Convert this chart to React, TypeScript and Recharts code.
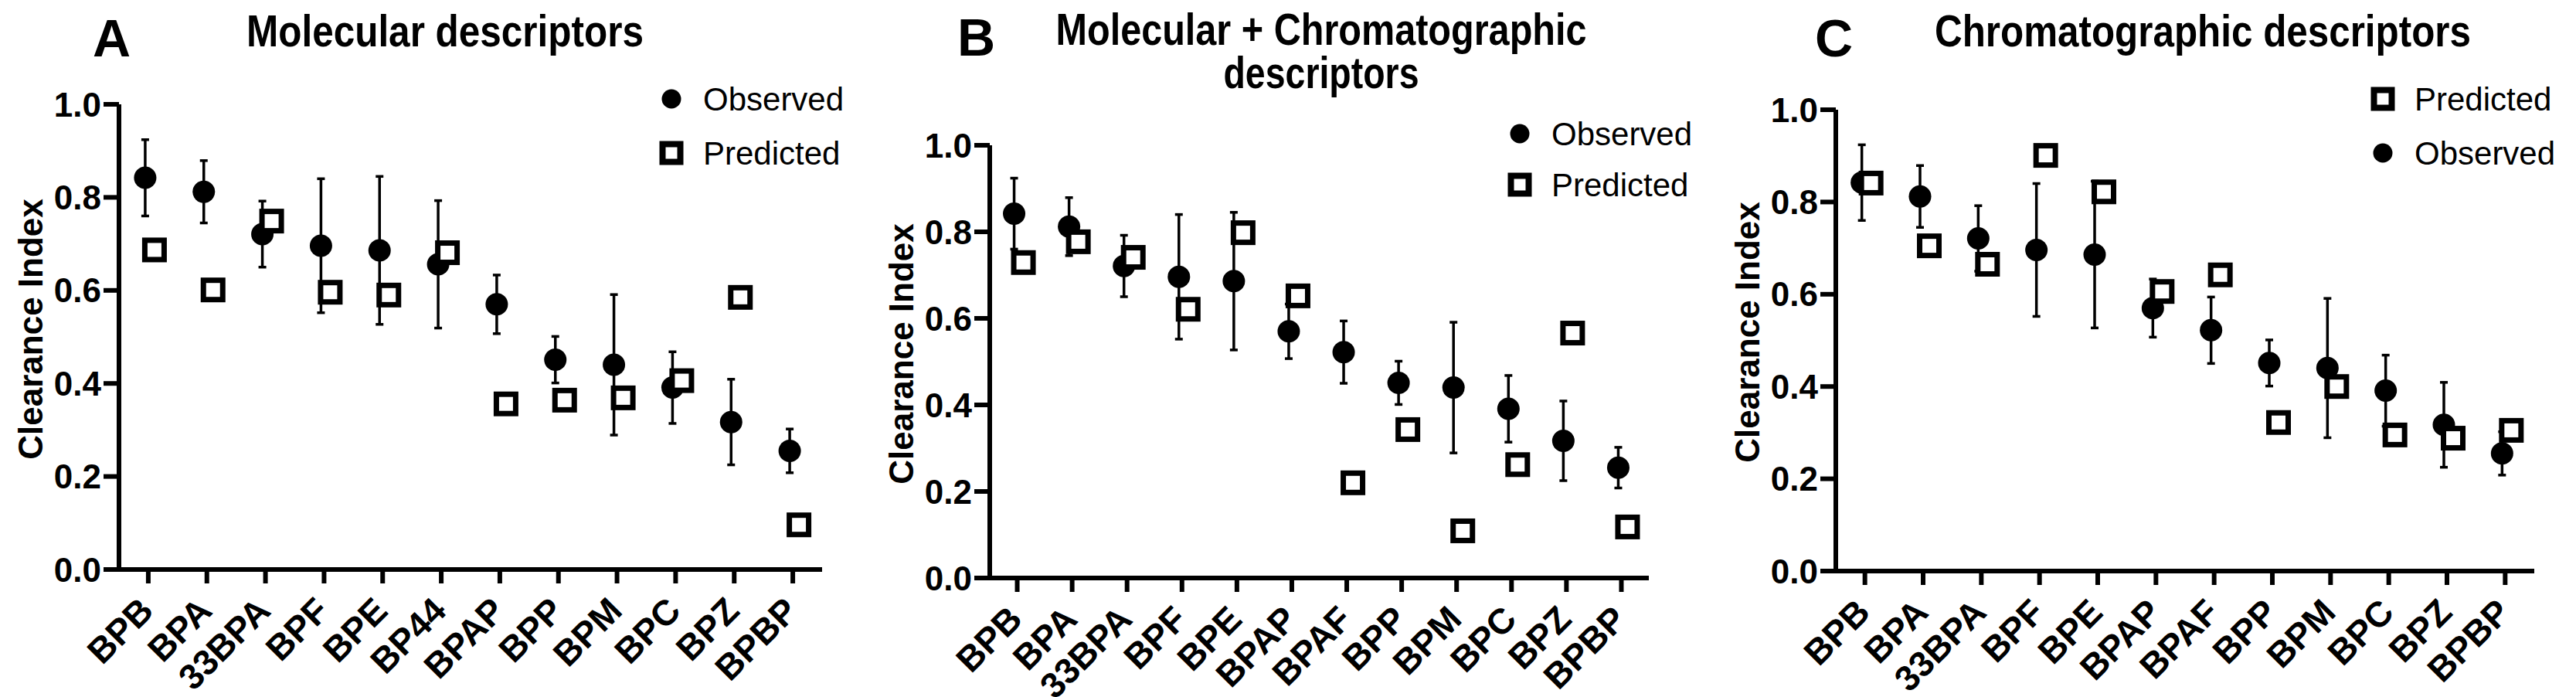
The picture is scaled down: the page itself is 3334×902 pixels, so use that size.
import React from 'react';
import { ComposedChart, Scatter, XAxis, YAxis, ErrorBar, Legend } from 'recharts';

const FONT = '"Liberation Sans", Arial, Helvetica, sans-serif';

const namesA = ['BPB', 'BPA', '33BPA', 'BPF', 'BPE', 'BP44', 'BPAP', 'BPP', 'BPM', 'BPC', 'BPZ', 'BPBP'];
const namesBC = ['BPB', 'BPA', '33BPA', 'BPF', 'BPE', 'BPAP', 'BPAF', 'BPP', 'BPM', 'BPC', 'BPZ', 'BPBP'];

// observed clearance index (mean and SD), same measurements in every panel
const observedA = [0.842, 0.812, 0.721, 0.696, 0.686, 0.656, 0.570, 0.451, 0.440, 0.391, 0.317, 0.255];
const observedErrA = [0.082, 0.067, 0.071, 0.144, 0.159, 0.137, 0.063, 0.050, 0.151, 0.077, 0.092, 0.047];
const observedBC = [0.842, 0.812, 0.721, 0.696, 0.686, 0.570, 0.522, 0.451, 0.440, 0.391, 0.317, 0.255];
const observedErrBC = [0.082, 0.067, 0.071, 0.144, 0.159, 0.063, 0.072, 0.050, 0.151, 0.077, 0.092, 0.047];

// model predictions
const predictedA = [0.687, 0.601, 0.749, 0.596, 0.590, 0.681, 0.356, 0.364, 0.369, 0.406, 0.585, 0.096];
const predictedB = [0.729, 0.777, 0.741, 0.621, 0.798, 0.652, 0.220, 0.343, 0.109, 0.262, 0.566, 0.118];
const predictedC = [0.841, 0.705, 0.665, 0.901, 0.822, 0.606, 0.642, 0.322, 0.400, 0.295, 0.288, 0.305];

const yTicks = [0, 0.2, 0.4, 0.6, 0.8, 1.0];

const buildRows = (names: string[], obs: number[], err: number[], pred: number[]) =>
  names.map((name, i) => ({ name, obs: obs[i], err: err[i], pred: pred[i] }));

const ObservedDot = (props: any) => <circle cx={props.cx} cy={props.cy} r={14.5} fill="#000" />;

const PredictedBox = (props: any) => (
  <rect x={props.cx - 12.5} y={props.cy - 12.5} width={25} height={25} fill="#fff" stroke="#000" strokeWidth={7} />
);

const XTick = (props: any) => {
  const { x, y, payload } = props;
  const ax = x + 9;
  const ay = y + 38;
  return (
    <text x={ax} y={ay} textAnchor="end" transform={`rotate(-45, ${ax}, ${ay})`}
      fontSize={46} fontWeight="bold" fontFamily={FONT} fill="#000">
      {payload.value}
    </text>
  );
};

const YTitle = ({ px, py }: { px: number; py: number }) => (
  <text x={px} y={py} textAnchor="middle" dominantBaseline="central" transform={`rotate(-90, ${px}, ${py})`}
    fontSize={44} fontWeight="bold" fontFamily={FONT} fill="#000">
    Clearance Index
  </text>
);

const LegendBox = ({ order, gap }: { order: string[]; gap: number }) => (
  <svg width={300} height={160}>
    {order.map((name, i) => {
      const cy = 33 + i * gap;
      return (
        <g key={name}>
          {name === 'Observed' ? (
            <circle cx={20} cy={cy} r={12.5} fill="#000" />
          ) : (
            <rect x={8.5} y={cy - 11.5} width={23} height={23} fill="#fff" stroke="#000" strokeWidth={8} />
          )}
          <text x={61} y={cy + 15} fontSize={42} fontFamily={FONT} fill="#000">{name}</text>
        </g>
      );
    })}
  </svg>
);

type PanelProps = {
  left: number;
  width: number;
  plotLeft: number;
  plotRight: number;
  plotTop: number;
  plotBottom: number;
  rows: any[];
  legendOrder: string[];
  legendX: number;
  legendY: number;
  legendGap: number;
};

const Panel = (p: PanelProps) => {
  const yAxisW = 110;
  const xAxisH = 150;
  const margin = {
    top: p.plotTop,
    left: p.plotLeft - p.left - yAxisW,
    right: p.left + p.width - p.plotRight,
    bottom: 902 - p.plotBottom - xAxisH,
  };
  const axisStroke = { stroke: '#000', strokeWidth: 6 };
  return (
    <div style={{ position: 'absolute', left: p.left, top: 0 }}>
      <ComposedChart width={p.width} height={902} data={p.rows} margin={margin}>
        <XAxis xAxisId="main" dataKey="name" type="category" scale="band" interval={0} height={xAxisH}
          axisLine={axisStroke} tickLine={axisStroke} tickSize={18} tickMargin={0} tick={<XTick />} />
        <XAxis xAxisId="obs" dataKey="name" type="category" scale="band" hide padding={{ left: -4, right: 4 }} />
        <XAxis xAxisId="pred" dataKey="name" type="category" scale="band" hide padding={{ left: 8, right: -8 }} />
        <YAxis type="number" domain={[0, 1]} ticks={yTicks} interval={0} width={yAxisW}
          axisLine={axisStroke} tickLine={axisStroke} tickSize={20} tickMargin={3}
          tickFormatter={(v: number) => v.toFixed(1)}
          tick={{ fill: '#000', fontSize: 44, fontWeight: 'bold', fontFamily: FONT }} />
        <Legend layout="vertical" align="center" verticalAlign="middle"
          wrapperStyle={{ left: p.legendX - p.left, top: p.legendY, width: 300, height: 160 }}
          content={() => <LegendBox order={p.legendOrder} gap={p.legendGap} />} />
        <Scatter name="Observed" dataKey="obs" xAxisId="obs" shape={<ObservedDot />} isAnimationActive={false}>
          <ErrorBar dataKey="err" direction="y" width={5} stroke="#000" strokeWidth={3.5} isAnimationActive={false} />
        </Scatter>
        <Scatter name="Predicted" dataKey="pred" xAxisId="pred" shape={<PredictedBox />} isAnimationActive={false} />
      </ComposedChart>
    </div>
  );
};

const titleStyle = { fontSize: 57, fontWeight: 'bold' as const, fontFamily: FONT, fill: '#000' };
const letterStyle = { fontSize: 68, fontWeight: 'bold' as const, fontFamily: FONT, fill: '#000' };

const Title = ({ cx, y, w, children }: { cx: number; y: number; w: number; children: string }) => (
  <text x={cx - w / 2} y={y} textLength={w} lengthAdjust="spacingAndGlyphs" style={titleStyle}>{children}</text>
);

export default function App() {
  return (
    <div style={{ position: 'absolute', left: 0, top: 0, width: 3334, height: 902, background: '#fff', overflow: 'hidden' }}>
      <Panel left={0} width={1110} plotLeft={154} plotRight={1064} plotTop={135} plotBottom={737}
        rows={buildRows(namesA, observedA, observedErrA, predictedA)}
        legendOrder={['Observed', 'Predicted']} legendX={849} legendY={95} legendGap={70} />
      <Panel left={1110} width={1110} plotLeft={1281} plotRight={2134} plotTop={188} plotBottom={748}
        rows={buildRows(namesBC, observedBC, observedErrBC, predictedB)}
        legendOrder={['Observed', 'Predicted']} legendX={1947} legendY={140} legendGap={66} />
      <Panel left={2220} width={1114} plotLeft={2376} plotRight={3280} plotTop={142} plotBottom={739}
        rows={buildRows(namesBC, observedBC, observedErrBC, predictedC)}
        legendOrder={['Predicted', 'Observed']} legendX={3064} legendY={95} legendGap={70} />
      <svg width={3334} height={902} style={{ position: 'absolute', left: 0, top: 0, pointerEvents: 'none' }}>
        <text x={120} y={73} style={letterStyle}>A</text>
        <Title cx={576} y={60} w={514}>Molecular descriptors</Title>
        <text x={1239} y={72} style={letterStyle}>B</text>
        <Title cx={1710} y={58} w={687}>Molecular + Chromatographic</Title>
        <Title cx={1710} y={114} w={253}>descriptors</Title>
        <text x={2349} y={73} style={letterStyle}>C</text>
        <Title cx={2851} y={60} w={694}>Chromatographic descriptors</Title>
        <YTitle px={39} py={426} />
        <YTitle px={1166} py={458} />
        <YTitle px={2261} py={430} />
      </svg>
    </div>
  );
}
